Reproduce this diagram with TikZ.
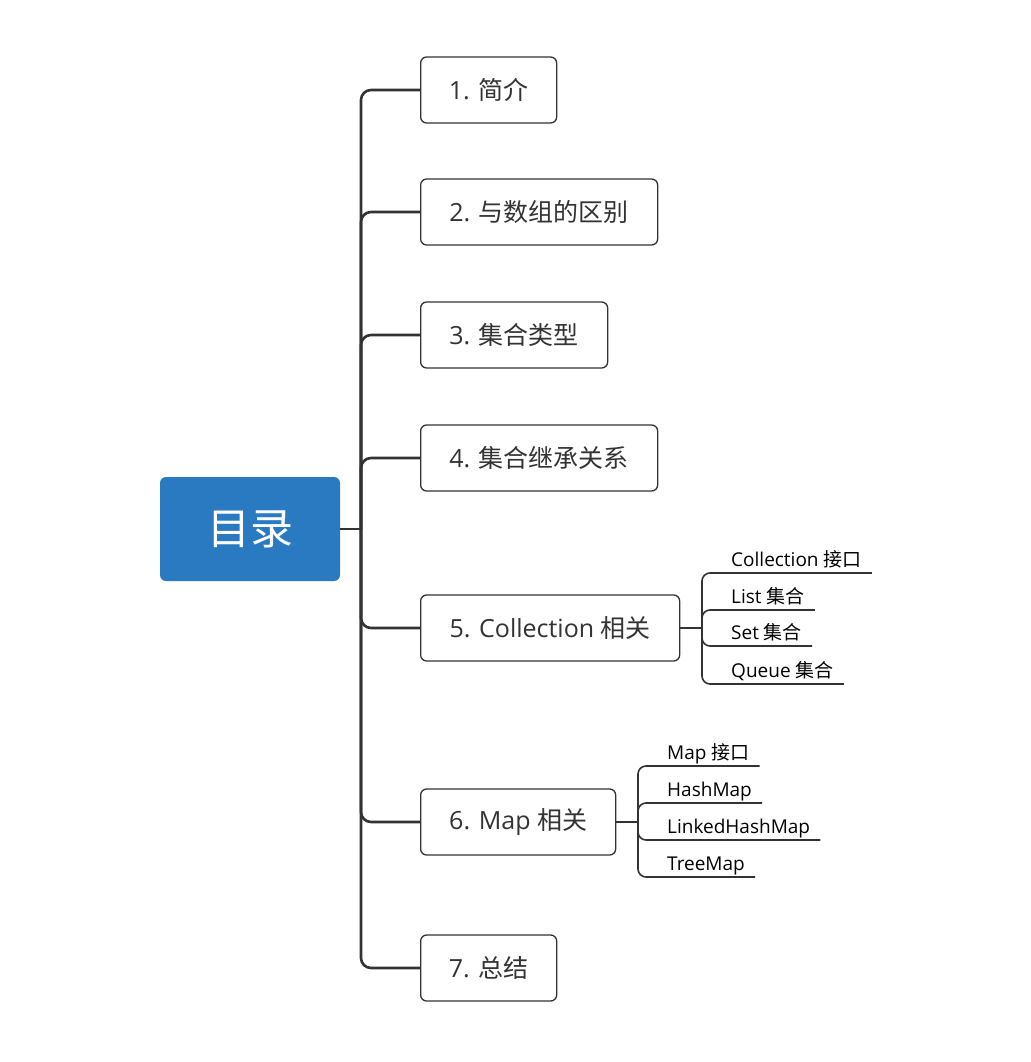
\documentclass[tikz,border=0pt]{standalone}
\usepackage{fontspec}
\setmainfont{Open Sans}
\newfontfamily\cjk{Noto Sans CJK SC}
\definecolor{rootblue}{HTML}{2A7AC1}
\definecolor{ink}{HTML}{333333}
\begin{document}
\begin{tikzpicture}[x=1pt,y=-1pt,
  topic/.style={draw=ink, line width=1.3pt, rounded corners=6pt, minimum height=66pt,
    anchor=west, font=\fontsize{25}{29}\selectfont, text=ink, inner sep=0pt},
  rootbox/.style={fill=rootblue, rounded corners=6pt, minimum width=180pt, minimum height=104pt,
    text=white, font=\cjk\fontsize{43}{47}\selectfont, inner sep=0pt},
  trunk/.style={draw=ink, line width=2.6pt, rounded corners=10pt},
  twig/.style={draw=ink, line width=1.6pt, rounded corners=8pt},
  sub/.style={anchor=south west, inner xsep=10pt, inner ysep=3pt, text depth=3pt,
    font=\fontsize{19}{22}\selectfont, text=black}]
\useasboundingbox (0,0) rectangle (1030,1062);
\fill[white] (0,0) rectangle (1030,1062);

\node[rootbox] (root) at (250,529) {目录};

\node[topic, minimum width=136pt] (t1) at (420,90) {1. {\cjk 简介}};
\node[topic, minimum width=237pt] (t2) at (420,212) {2. {\cjk 与数组的区别}};
\node[topic, minimum width=187pt] (t3) at (420,335) {3. {\cjk 集合类型}};
\node[topic, minimum width=237pt] (t4) at (420,458) {4. {\cjk 集合继承关系}};
\node[topic, minimum width=259pt] (t5) at (420,628) {5. Collection {\cjk 相关}};
\node[topic, minimum width=195pt] (t6) at (420,822) {6. Map {\cjk 相关}};
\node[topic, minimum width=136pt] (t7) at (420,968) {7. {\cjk 总结}};

\coordinate (hub) at (361,529);
\draw[trunk] (root.east) -- (hub);
\foreach \t in {t1,t2,t3,t4,t5,t6,t7}
  \draw[trunk] (hub) |- (\t.west);

% Collection subtopics
\node[sub] (c1) at (721,573) {Collection {\cjk 接口}};
\node[sub] (c2) at (721,610) {List {\cjk 集合}};
\node[sub] (c3) at (721,646) {Set {\cjk 集合}};
\node[sub] (c4) at (721,684) {Queue {\cjk 集合}};
\coordinate (h5) at (702,628);
\draw[twig] (t5.east) -- (h5);
\foreach \c in {c1,c2,c3,c4}
  \draw[twig] (h5) |- (\c.south east);

% Map subtopics
\node[sub] (m1) at (657,766) {Map {\cjk 接口}};
\node[sub] (m2) at (657,803) {HashMap};
\node[sub] (m3) at (657,840) {LinkedHashMap};
\node[sub] (m4) at (657,877) {TreeMap};
\coordinate (h6) at (638,822);
\draw[twig] (t6.east) -- (h6);
\foreach \m in {m1,m2,m3,m4}
  \draw[twig] (h6) |- (\m.south east);
\end{tikzpicture}
\end{document}
